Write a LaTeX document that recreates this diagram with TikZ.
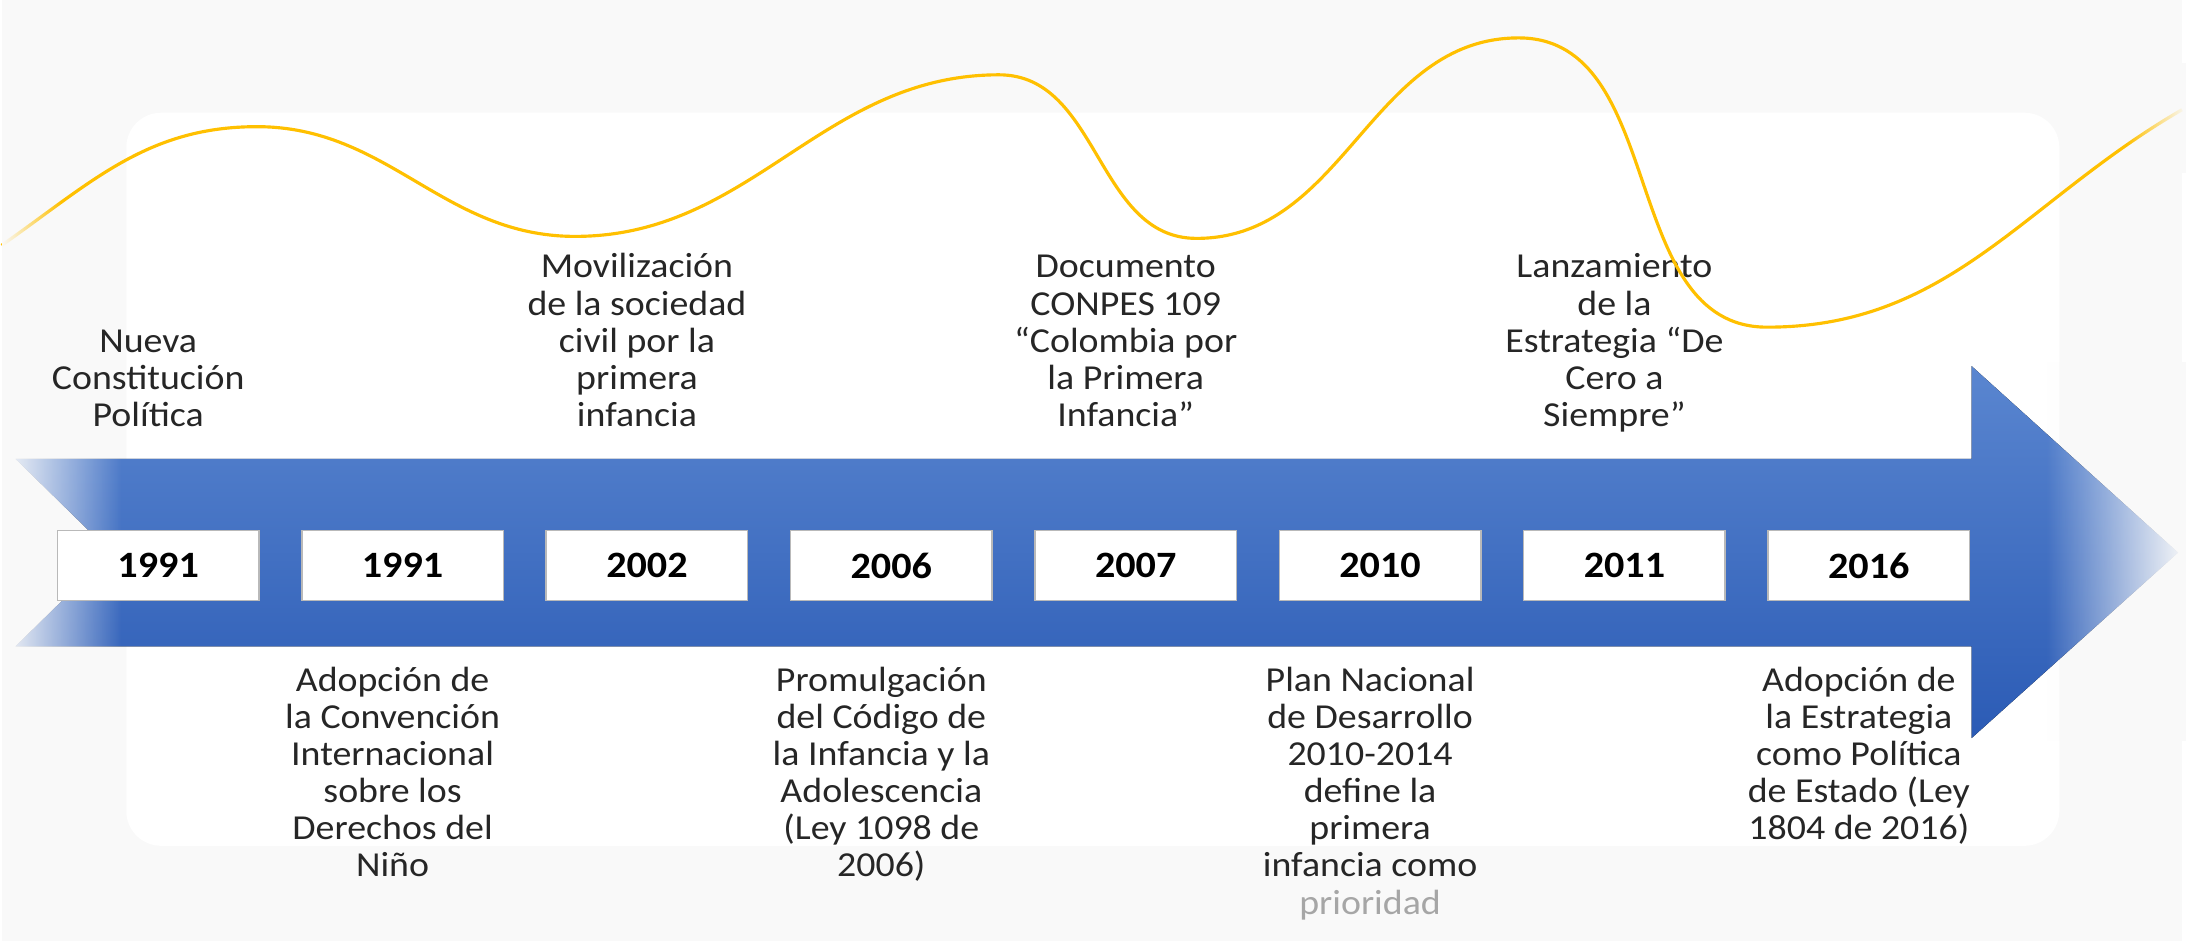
\documentclass[tikz,border=0pt]{standalone}
\usepackage{fontspec}
\setmainfont{Carlito}[FakeStretch=1.08]
\usetikzlibrary{positioning,fadings}

\definecolor{wavegold}{HTML}{FFC000}
\definecolor{arrowtop}{HTML}{5A86D0}
\definecolor{arrowbot}{HTML}{2B5BB5}
\definecolor{panelgray}{HTML}{F9F9F9}
\definecolor{textgray}{HTML}{262626}

\tikzset{
  yearbox/.style={draw=gray!55, fill=white, minimum width=2.02cm, minimum height=0.70cm,
    inner sep=0pt, text=black, font=\fontsize{10.6}{12}\selectfont\bfseries},
  eventtext/.style={align=center, inner sep=0pt, text=textgray, xshift=-1mm,
    font=\fontsize{10}{10.6}\selectfont},
  uptext/.style={eventtext, text depth=0pt},
  downtext/.style={eventtext},
}

\begin{document}
\begin{tikzpicture}

    % ==========================================
    % BACKGROUND PANEL
    % ==========================================
    \fill[panelgray] (0,0) rectangle (21.86,9.43);
    \fill[white, rounded corners=0.35cm] (1.25,0.95) rectangle (20.63,8.30);

    % ==========================================
    % BIG ARROW
    % ==========================================
    \coordinate (tailtop) at (0.14,4.83);
    \coordinate (tailmid) at (1.10,3.89);
    \coordinate (tailbot) at (0.14,2.95);
    \coordinate (neckt) at (19.75,4.83);
    \coordinate (headt) at (19.75,5.76);
    \coordinate (tip) at (21.82,3.89);
    \coordinate (headb) at (19.75,2.03);
    \coordinate (neckb) at (19.75,2.95);

    \fill[top color=arrowtop, bottom color=arrowbot]
        (tailtop) -- (neckt) -- (headt) -- (tip) -- (headb) -- (neckb)
        -- (tailbot) -- (tailmid) -- cycle;

    % fade both ends
    \fill[panelgray, path fading=east] (0,2.9) rectangle (1.2,4.9);
    \fill[panelgray, path fading=west] (20.5,2.0) rectangle (21.9,5.8);

    % ==========================================
    % YEAR BOXES
    % ==========================================
    \node[yearbox] (b1) at (1.57,3.76) {1991};
    \node[yearbox] (b2) at (4.02,3.76) {1991};
    \node[yearbox] (b3) at (6.47,3.76) {2002};
    \node[yearbox] (b4) at (8.92,3.76) {2006};
    \node[yearbox] (b5) at (11.37,3.76) {2007};
    \node[yearbox] (b6) at (13.82,3.76) {2010};
    \node[yearbox] (b7) at (16.27,3.76) {2011};
    \node[yearbox] (b8) at (18.72,3.76) {2016};

    % ==========================================
    % EVENTS ABOVE
    % ==========================================
    \node[uptext, above=1.03cm of b1] (t1) {Nueva\\Constitución\\Política};
    \node[uptext, above=1.03cm of b3] (t3) {Movilización\\de la sociedad\\civil por la\\primera\\infancia};
    \node[uptext, above=1.03cm of b5] (t5) {Documento\\CONPES 109\\“Colombia por\\la Primera\\Infancia”};
    \node[uptext, above=1.03cm of b7] (t7) {Lanzamiento\\de la\\Estrategia “De\\Cero a\\Siempre”};

    % ==========================================
    % EVENTS BELOW
    % ==========================================
    \node[downtext, below=0.65cm of b2] (t2) {Adopción de\\la Convención\\Internacional\\sobre los\\Derechos del\\Niño};
    \node[downtext, below=0.65cm of b4] (t4) {Promulgación\\del Código de\\la Infancia y la\\Adolescencia\\(Ley 1098 de\\2006)};
    \node[downtext, below=0.65cm of b6] (t6) {Plan Nacional\\de Desarrollo\\2010-2014\\define la\\primera\\infancia como\\{\color{gray!70}prioridad}};
    \node[downtext, below=0.65cm of b8] (t8) {Adopción de\\la Estrategia\\como Política\\de Estado (Ley\\1804 de 2016)};

    % ==========================================
    % GOLD WAVE (on top)
    % ==========================================
    \draw[wavegold, line width=0.9pt]
        (0,6.97) to[out=35,in=180] (2.56,8.16)
        to[out=0,in=180] (5.75,7.06)
        to[out=0,in=180] (10.0,8.68)
        to[out=0,in=180] (11.98,7.04)
        to[out=0,in=180] (15.21,9.05)
        to[out=0,in=180] (17.70,6.15)
        to[out=0,in=210] (21.86,8.33);
    \fill[panelgray, path fading=east] (0,6.5) rectangle (0.6,7.5);
    \fill[panelgray, path fading=west] (21.3,7.7) rectangle (21.9,8.8);

\end{tikzpicture}
\end{document}
